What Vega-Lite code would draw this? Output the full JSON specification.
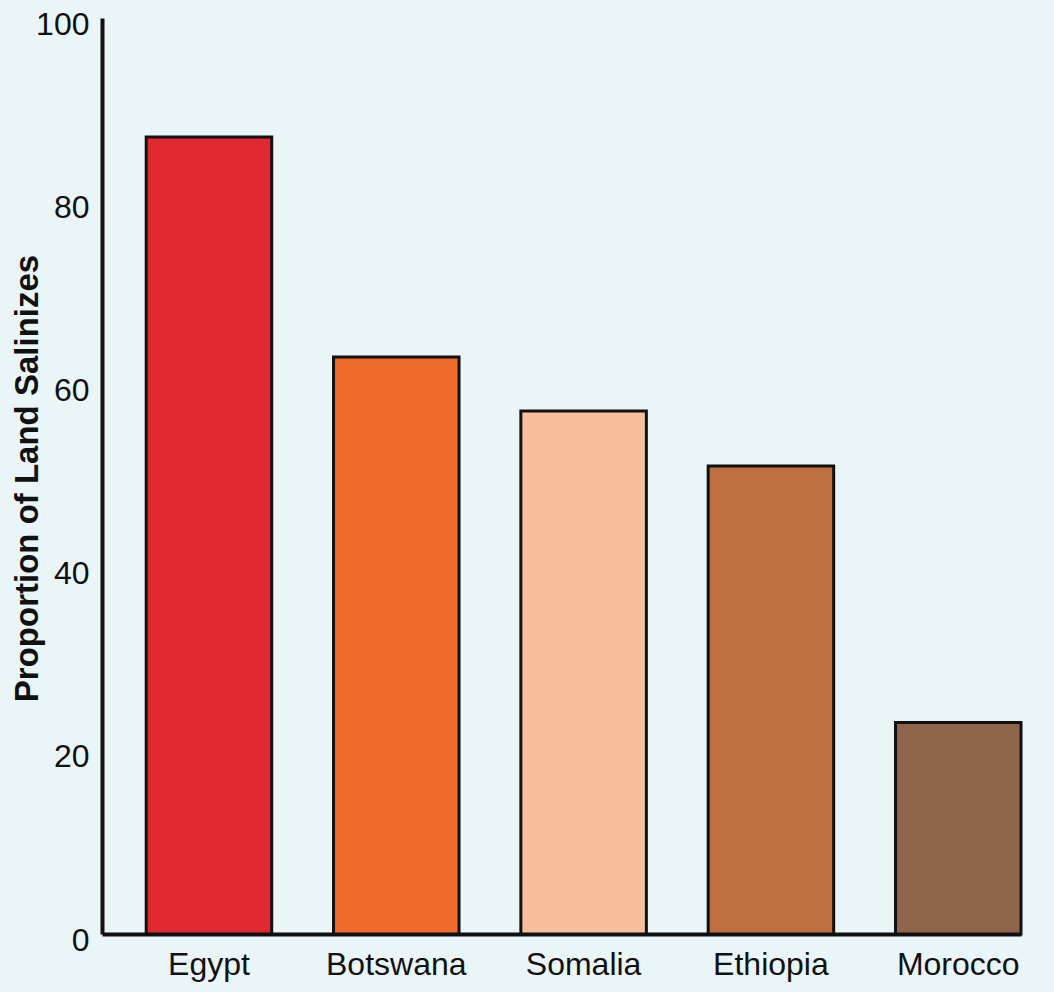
{
  "$schema": "https://vega.github.io/schema/vega-lite/v6.json",
  "autosize": {"type": "none"},
  "width": 919,
  "height": 916,
  "padding": {"left": 102, "top": 18, "right": 33, "bottom": 58},
  "background": "#EAF5F8",
  "config": {
    "view": {"stroke": null},
    "font": "Liberation Sans",
    "axis": {"labelFont": "Liberation Sans", "titleFont": "Liberation Sans"}
  },
  "data": {
    "values": [
      {"country": "Egypt", "value": 87},
      {"country": "Botswana", "value": 63},
      {"country": "Somalia", "value": 57.1},
      {"country": "Ethiopia", "value": 51.1},
      {"country": "Morocco", "value": 23.1}
    ]
  },
  "mark": {"type": "bar", "stroke": "#111111", "strokeWidth": 3, "strokeJoin": "miter"},
  "encoding": {
    "x": {
      "field": "country",
      "type": "nominal",
      "sort": null,
      "scale": {"paddingInner": 0.33, "paddingOuter": 0.118, "align": 1},
      "axis": {
        "title": null,
        "labelAngle": 0,
        "ticks": false,
        "domainColor": "#111111",
        "domainWidth": 4,
        "labelFontSize": 32,
        "labelColor": "#111111",
        "labelPadding": 15
      }
    },
    "y": {
      "field": "value",
      "type": "quantitative",
      "scale": {"domain": [0, 100], "nice": false},
      "axis": {
        "title": "Proportion of Land Salinizes",
        "titleFontSize": 33,
        "titleFontWeight": "bold",
        "titleColor": "#111111",
        "titleX": -75,
        "titleY": 460,
        "titleBaseline": "middle",
        "titleAngle": -90,
        "values": [0, 20, 40, 60, 80, 100],
        "grid": false,
        "ticks": false,
        "domainColor": "#111111",
        "domainWidth": 4,
        "labelFontSize": 32,
        "labelColor": "#111111",
        "labelPadding": 13,
        "labelOffset": 6
      }
    },
    "color": {
      "field": "country",
      "type": "nominal",
      "legend": null,
      "scale": {
        "domain": ["Egypt", "Botswana", "Somalia", "Ethiopia", "Morocco"],
        "range": ["#E0292F", "#F06A2C", "#F8BF9A", "#BF6E40", "#8E644A"]
      }
    }
  }
}
